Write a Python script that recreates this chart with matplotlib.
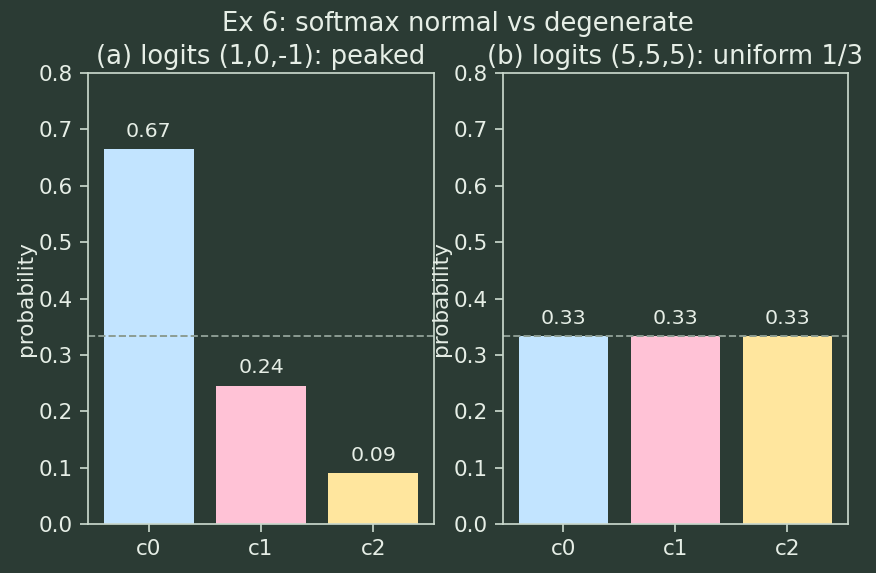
import numpy as np
import matplotlib
matplotlib.use('Agg')
import matplotlib.pyplot as plt

# data
classes = ['c0', 'c1', 'c2']
probs_peaked = [0.665, 0.245, 0.090]
probs_uniform = [1/3, 1/3, 1/3]
titles = ['(a) logits (1,0,-1): peaked', '(b) logits (5,5,5): uniform 1/3']
colors = ['#c2e4ff', '#ffc2d6', '#ffe69e']

bg = '#2b3b34'
fg = '#e6eee6'
spine = '#c9d8cc'

DPI = 155
plt.rcParams['font.size'] = 10

fig = plt.figure(figsize=(876/DPI, 573/DPI), dpi=DPI, facecolor=bg)
ax1 = fig.add_axes([0.1005, 0.0855, 0.395, 0.787])
ax2 = fig.add_axes([0.574, 0.0855, 0.394, 0.787])

for ax, vals, title in zip([ax1, ax2], [probs_peaked, probs_uniform], titles):
    ax.set_facecolor(bg)
    bars = ax.bar(classes, vals, color=colors, width=0.8)
    for bar in bars:
        h = bar.get_height()
        ax.text(bar.get_x() + bar.get_width()/2, h + 0.015, f'{h:.2f}',
                ha='center', va='bottom', color=fg, fontsize=9.5)
    ax.axhline(1/3, color='#8c9c92', linestyle='--', linewidth=0.9)
    ax.set_ylim(0, 0.8)
    ax.set_title(title, color=fg, fontsize=12, pad=4)
    ax.set_ylabel('probability', color=fg, labelpad=1.2)
    ax.tick_params(colors=spine, labelcolor=fg)
    for s in ax.spines.values():
        s.set_color(spine)

fig.suptitle('Ex 6: softmax normal vs degenerate', color=fg, fontsize=12,
             x=0.523, y=0.98)

fig.savefig('out.png', dpi=DPI, facecolor=bg)
